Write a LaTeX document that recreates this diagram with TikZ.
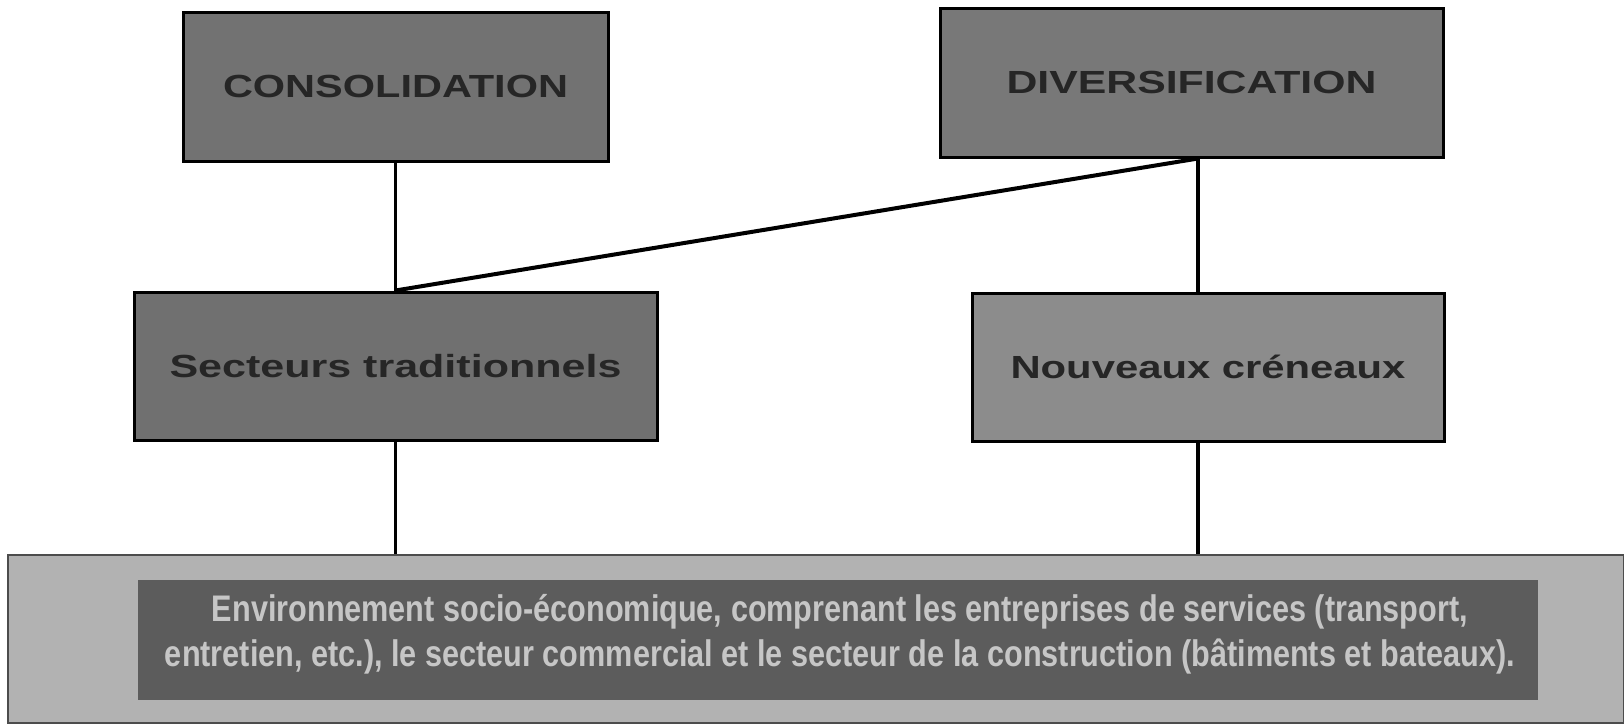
\documentclass[tikz,border=0pt]{standalone}
\usepackage{fontspec}
\setmainfont{Liberation Sans}
\usepackage{graphicx}
\usetikzlibrary{calc}
\definecolor{consfill}{HTML}{727272}
\definecolor{divfill}{HTML}{787878}
\definecolor{sectfill}{HTML}{707070}
\definecolor{nouvfill}{HTML}{8C8C8C}
\definecolor{bandfill}{HTML}{B2B2B2}
\definecolor{innerfill}{HTML}{5C5C5C}
\definecolor{titletext}{HTML}{262626}
\definecolor{bandtext}{HTML}{C6C6C6}
\begin{document}
\begin{tikzpicture}[x=1pt,y=-1pt,
  box/.style={draw=black,line width=3pt,inner sep=0pt,anchor=center,text=titletext,
    font=\fontsize{32}{32}\selectfont\bfseries},
  link/.style={draw=black,line width=3.5pt},
  diag/.style={draw=black,line width=4pt}]
\useasboundingbox (0,0) rectangle (1624,723);

% top row
\node[box,fill=consfill,minimum width=425pt,minimum height=149pt] (cons) at (395.5,86.5)
  {\resizebox{345pt}{\height}{CONSOLIDATION}};
\node[box,fill=divfill,minimum width=503pt,minimum height=149pt] (div) at (1191.5,82.5)
  {\resizebox{370pt}{\height}{DIVERSIFICATION}};

% middle row
\node[box,fill=sectfill,minimum width=523pt,minimum height=148pt] (sect) at (395.5,366)
  {\resizebox{452pt}{\height}{Secteurs traditionnels}};
\node[box,fill=nouvfill,minimum width=472pt,minimum height=148pt] (nouv) at (1208,367)
  {\resizebox{395pt}{\height}{Nouveaux créneaux}};

% bottom band
\node[draw=black!70,line width=1.5pt,fill=bandfill,minimum width=1616pt,minimum height=168pt,inner sep=0pt]
  (band) at (816,639) {};
\node[fill=innerfill,minimum width=1400pt,minimum height=120pt,inner sep=0pt] (inner) at (838,640) {};
\node[inner sep=0pt,text=bandtext,align=center,font=\fontsize{37}{45}\selectfont\bfseries]
  (envtext) at (840,634.5)
  {\resizebox{1256pt}{\height}{Environnement socio-économique, comprenant les entreprises de services (transport,}\\
   \resizebox{1350pt}{\height}{entretien, etc.), le secteur commercial et le secteur de la construction (bâtiments et bateaux).}};

% connectors
\coordinate (dj) at ($(div.south)+(6.5,0)$);
\draw[link] (cons.south) -- (sect.north);
\draw[link] (dj) -- (dj |- nouv.north);
\draw[diag] (dj) -- (sect.north);
\draw[link] (sect.south) -- (sect.south |- band.north);
\draw[link] (dj |- nouv.south) -- (dj |- band.north);
\end{tikzpicture}
\end{document}
